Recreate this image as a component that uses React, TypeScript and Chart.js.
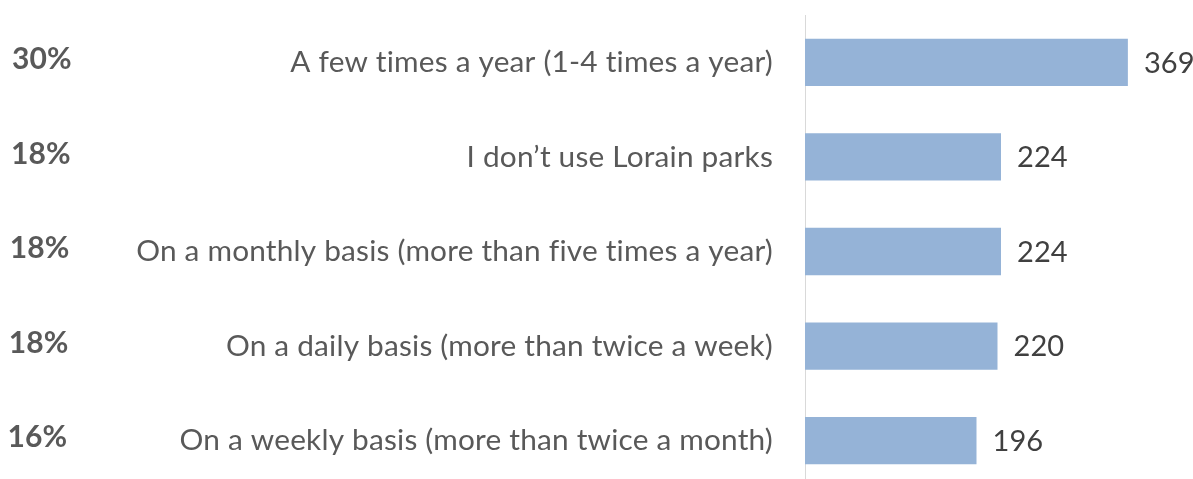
import React, { useEffect, useRef } from "react";
import { Chart, registerables } from "chart.js";

Chart.register(...registerables);

const categories: string[] = [
  "A few times a year (1-4 times a year)",
  "I don’t use Lorain parks",
  "On a monthly basis (more than five times a year)",
  "On a daily basis (more than twice a week)",
  "On a weekly basis (more than twice a month)",
];
const counts: number[] = [369, 224, 224, 220, 196];
const percentLabels: string[] = ["30%", "18%", "18%", "18%", "16%"];

const FONT = "Lato";

const spacingPlugin = {
  id: "noLigatures",
  beforeDraw(chart: any) {
    chart.ctx.letterSpacing = "0.2px";
  },
};

const labelPlugin = {
  id: "sideLabels",
  afterDatasetsDraw(chart: any) {
    const ctx = chart.ctx;
    const meta = chart.getDatasetMeta(0);
    ctx.save();
    ctx.letterSpacing = "0.1px";
    ctx.textBaseline = "middle";
    meta.data.forEach((bar: any, i: number) => {
      ctx.font = `29px ${FONT}`;
      ctx.fillStyle = "#404040";
      ctx.textAlign = "left";
      ctx.fillText(String(counts[i]), bar.x + 16, bar.y + 1);
      ctx.font = `bold 30px ${FONT}`;
      ctx.fillStyle = "#595959";
      ctx.fillText(percentLabels[i], 12 - i * 1.1, bar.y - 3);
    });
    ctx.restore();
  },
};

export default function App() {
  const ref = useRef<HTMLCanvasElement | null>(null);
  useEffect(() => {
    document.body.style.margin = "0";
    if (!ref.current) return;
    const chart = new Chart(ref.current, {
      type: "bar",
      data: {
        labels: categories,
        datasets: [
          {
            data: counts,
            backgroundColor: "#95b3d7",
            categoryPercentage: 1,
            barPercentage: 0.5,
          },
        ],
      },
      options: {
        indexAxis: "y",
        animation: false,
        responsive: false,
        layout: { padding: { top: 15, right: 38, left: 0, bottom: 0 } },
        plugins: { legend: { display: false }, tooltip: { enabled: false } },
        scales: {
          x: { display: false, min: 0, max: 400 },
          y: {
            grid: { display: false, drawTicks: false },
            border: { display: true, color: "#d9d9d9", width: 1 },
            ticks: {
              color: "#595959",
              font: { family: FONT, size: 29.8 },
              padding: 32,
            },
            afterFit: (s: any) => {
              s.width = 805;
              s.paddingTop = 0;
              s.paddingBottom = 0;
            },
          },
        },
      },
      plugins: [spacingPlugin, labelPlugin],
    } as any);
    return () => chart.destroy();
  }, []);
  return (
    <div style={{ width: 1193, height: 479, overflow: "hidden", background: "#fff" }}>
      <canvas ref={ref} width={1193} height={488} style={{ display: "block" }} />
    </div>
  );
}
